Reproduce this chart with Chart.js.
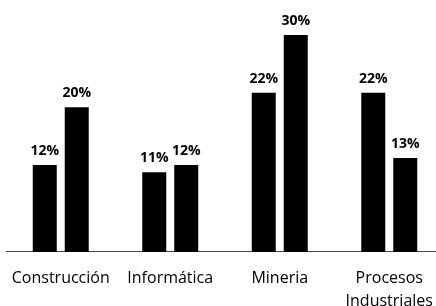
<!DOCTYPE html>
<html>
<head>
<meta charset="utf-8">
<script src="https://cdn.jsdelivr.net/npm/chart.js@4.4.0/dist/chart.umd.min.js"></script>
<style>
  html, body { margin: 0; padding: 0; background: #fff; overflow: hidden; }
  #wrap { width: 436px; height: 306px; }
</style>
</head>
<body>
<div id="wrap"><canvas id="barChart" width="436" height="306"></canvas></div>
<script>
// data
const categories = ['Construcción', 'Informática', 'Mineria', ['Procesos', 'Industriales']];
const seriesA = [12, 11, 22, 22];
const seriesB = [20, 12, 30, 13];

// value labels above each bar
const valueLabels = {
    id: 'valueLabels',
    afterDatasetsDraw(chart) {
        const ctx = chart.ctx;
        ctx.save();
        ctx.font = 'bold 14px "Open Sans"';
        ctx.fillStyle = '#000';
        ctx.textAlign = 'center';
        ctx.textBaseline = 'alphabetic';
        chart.data.datasets.forEach((ds, i) => {
            chart.getDatasetMeta(i).data.forEach((bar, j) => {
                ctx.fillText(ds.data[j] + '%', bar.x, bar.y - 10);
            });
        });
        ctx.restore();
    }
};

// the original is cropped on the right: let the x scale run a bit past the edge
const widenX = {
    id: 'widenX',
    afterLayout(chart) {
        const x = chart.scales.x;
        x.right = x.left + 438;
        x.width = 438;
        x.configure();
        chart.chartArea.right = x.right;
        chart.chartArea.width = x.width;
    }
};

new Chart(document.getElementById('barChart'), {
    type: 'bar',
    data: {
        labels: categories,
        datasets: [
            { label: 'A', data: seriesA, backgroundColor: '#000' },
            { label: 'B', data: seriesB, backgroundColor: '#000' }
        ]
    },
    options: {
        responsive: false,
        animation: false,
        categoryPercentage: 0.584,
        barPercentage: 0.75,
        layout: { padding: { left: 6, right: 0, top: 6, bottom: -22 } },
        plugins: { legend: { display: false }, tooltip: { enabled: false } },
        scales: {
            x: {
                grid: { display: false, drawTicks: false },
                border: { display: true, color: '#444', width: 1 },
                ticks: {
                    color: '#000',
                    font: { family: '"Open Sans"', size: 16, lineHeight: 1.44 },
                    padding: 15,
                    maxRotation: 0
                },
                afterFit(scale) {
                    scale.paddingLeft = 0;
                    scale.paddingRight = 0;
                }
            },
            y: {
                display: false,
                min: 0,
                max: 34
            }
        }
    },
    plugins: [valueLabels, widenX]
});
</script>
</body>
</html>
